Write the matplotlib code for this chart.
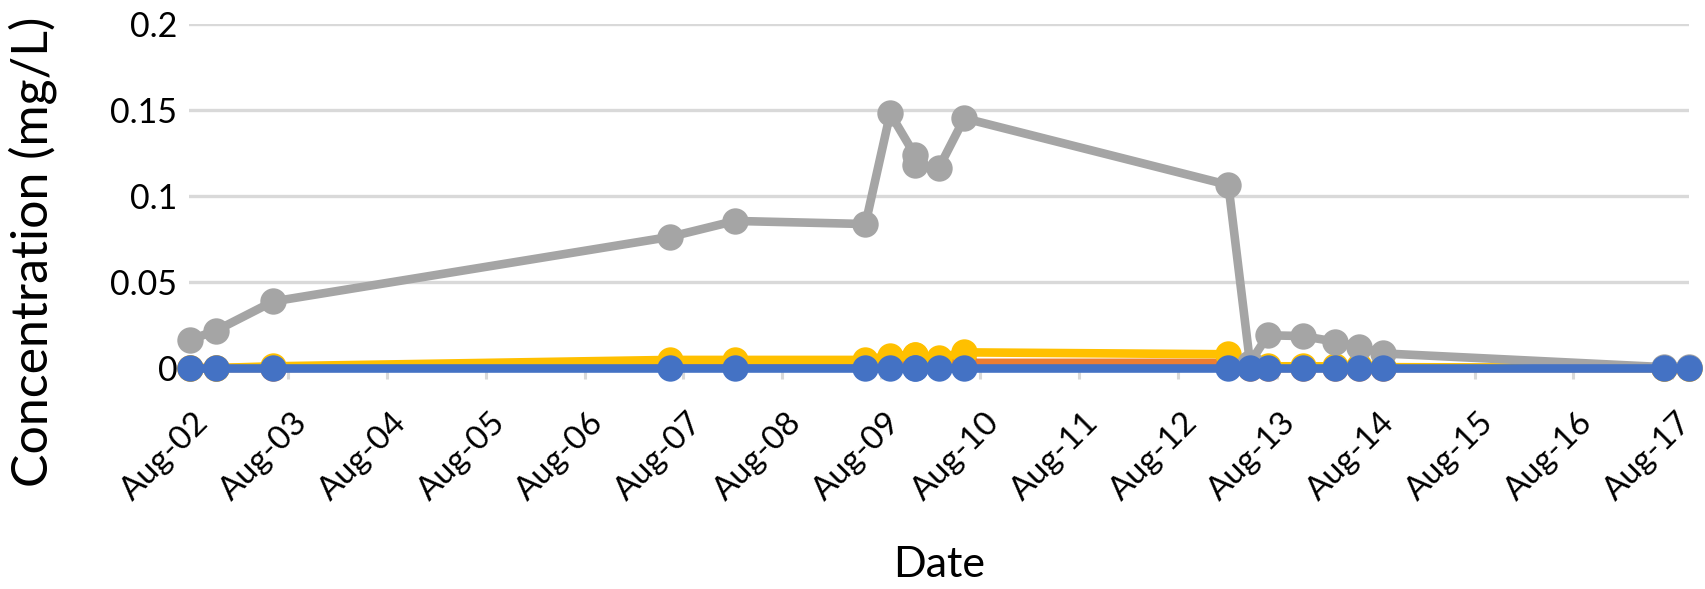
import numpy as np
import pandas as pd
import matplotlib
matplotlib.use("Agg")
import matplotlib.pyplot as plt
import matplotlib.dates as mdates
from matplotlib.transforms import ScaledTranslation

plt.rcParams['font.family'] = ['Lato', 'DejaVu Sans']

# sampling times (year is arbitrary, only month-day is shown)
times = pd.to_datetime([
    "2019-08-02 00:20", "2019-08-02 06:30", "2019-08-02 20:25",
    "2019-08-06 20:40", "2019-08-07 12:30", "2019-08-08 20:10",
    "2019-08-09 02:10", "2019-08-09 08:10", "2019-08-09 08:15",
    "2019-08-09 13:55", "2019-08-09 20:10", "2019-08-12 12:15",
    "2019-08-12 17:30", "2019-08-12 21:50", "2019-08-13 06:15",
    "2019-08-13 14:10", "2019-08-13 19:55", "2019-08-14 01:40",
    "2019-08-16 22:05", "2019-08-17 04:05",
])

gray_vals = [0.0165, 0.0217, 0.0387, 0.0762, 0.0855, 0.0837, 0.148, 0.1238,
             0.118, 0.116, 0.1452, 0.1064, 0.003, 0.019, 0.0186, 0.0153,
             0.0124, 0.0085, 0.0005, 0.0005]
yellow_vals = [0.0, 0.0, 0.001, 0.0047, 0.0047, 0.0047, 0.0072, 0.0075,
               0.0075, 0.006, 0.0091, 0.008, 0.001, 0.001, 0.001, 0.001,
               0.001, 0.0005, 0.0, 0.0]
orange_vals = [0.0, 0.0, 0.0, 0.001, 0.001, 0.001, 0.002, 0.002, 0.002,
               0.002, 0.003, 0.003, 0.0, 0.0, 0.0, 0.0, 0.0, 0.0, 0.0, 0.0]
blue_vals = [0.0] * 20

yticks = [0, 0.05, 0.1, 0.15, 0.2]
ytick_labels = ["0", "0.05", "0.1", "0.15", "0.2"]

fig = plt.figure(figsize=(17.05, 5.89), dpi=100)
ax = fig.add_axes([0.1109, 0.3752, 0.8798, 0.5841])

lw = 6.2
ms = 19
series = [
    (orange_vals, '#ED7D31', 2),
    (yellow_vals, '#FFC000', 3),
    (gray_vals, '#A5A5A5', 4),
    (blue_vals, '#4472C4', 5),
]
for vals, col, z in series:
    ax.plot(times, vals, color=col, lw=lw, marker='o', ms=ms,
            markeredgewidth=0, zorder=z, clip_on=False,
            solid_joinstyle='round')

ax.set_ylim(0, 0.2)
ax.set_xlim(pd.Timestamp("2019-08-02 00:00"), times[-1])
ax.set_yticks(yticks)
ax.set_yticklabels(ytick_labels)
ax.yaxis.grid(True, color='#D9D9D9', lw=2.4, zorder=0)
ax.set_axisbelow(True)

ax.xaxis.set_major_locator(mdates.DayLocator())
ax.xaxis.set_major_formatter(mdates.DateFormatter('%b-%d'))

for s in ['top', 'right', 'left']:
    ax.spines[s].set_visible(False)
ax.spines['bottom'].set_color('#D9D9D9')
ax.spines['bottom'].set_linewidth(2.4)

ax.tick_params(axis='y', length=0, pad=8.5, labelsize=24.5)
ax.tick_params(axis='x', length=8, width=2.2, color='#D9D9D9', pad=20,
               labelsize=24)
for lab in ax.get_xticklabels():
    lab.set_rotation(45)
    lab.set_ha('right')
    lab.set_va('top')
    lab.set_rotation_mode('anchor')
    lab.set_transform(lab.get_transform() +
                      ScaledTranslation(4 / 100, 0, fig.dpi_scale_trans))

ax.set_xlabel("Date", fontsize=31)
ax.xaxis.label.set_va('center')
ax.xaxis.set_label_coords(0.5, -0.573)
ax.set_ylabel("Concentration (mg/L)", fontsize=36)
ax.yaxis.label.set_va('center')
ax.yaxis.set_label_coords(-0.104, 0.337)

fig.savefig("out.png", dpi=100)
